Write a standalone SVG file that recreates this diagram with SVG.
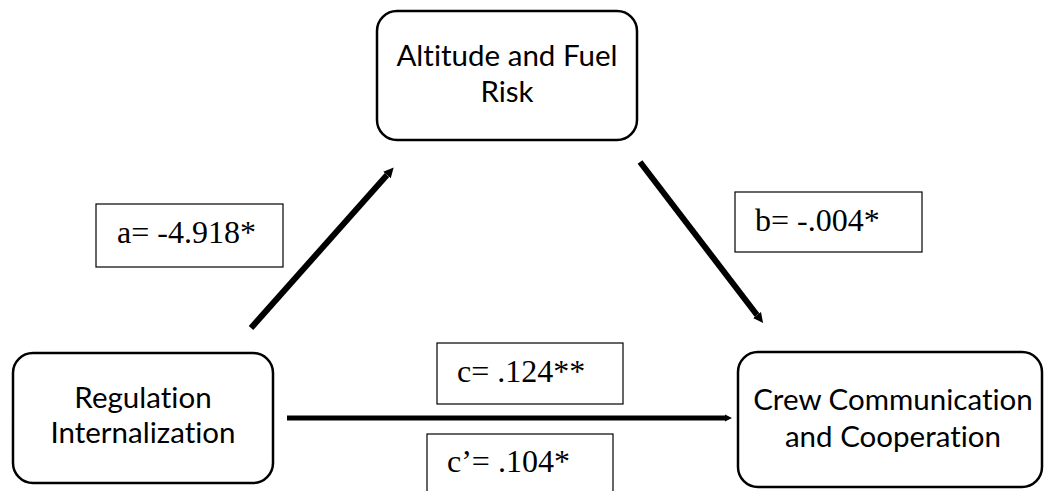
<svg xmlns="http://www.w3.org/2000/svg" width="1044" height="491" viewBox="0 0 1044 491">
  <style>
    .node { fill: #ffffff; stroke: #000000; stroke-width: 2.5; }
    .node-text { font-family: "Lato", "Liberation Sans", sans-serif; font-size: 29.5px; fill: #000000; text-anchor: middle; font-variant-ligatures: no-common-ligatures no-discretionary-ligatures; font-feature-settings: "liga" 0, "clig" 0, "dlig" 0; letter-spacing: 0.01px; }
    .coef-box { fill: #ffffff; stroke: #000000; stroke-width: 1.2; }
    .coef-text { font-family: "Liberation Serif", "Times New Roman", serif; font-size: 32px; fill: #000000; }
    .path { stroke: #000000; fill: none; }
  </style>
  <defs>
    <marker id="head" viewBox="0 0 10 10" refX="0" refY="5" markerWidth="10" markerHeight="13" markerUnits="userSpaceOnUse" orient="auto">
      <path d="M0,0 L10,5 L0,10 Z" fill="#000000"/>
    </marker>
    <marker id="head-small" viewBox="0 0 10 10" refX="0" refY="5" markerWidth="7" markerHeight="10" markerUnits="userSpaceOnUse" orient="auto">
      <path d="M0,0 L10,5 L0,10 Z" fill="#000000"/>
    </marker>
  </defs>

  <!-- paths between variables -->
  <g id="connectors">
    <line class="path" x1="251" y1="328" x2="387" y2="175" stroke-width="6" marker-end="url(#head)"/>
    <line class="path" x1="640" y1="162" x2="757" y2="315" stroke-width="6" marker-end="url(#head)"/>
    <line class="path" x1="287" y1="418" x2="725" y2="418" stroke-width="5" marker-end="url(#head-small)"/>
  </g>

  <g id="node-mediator">
    <rect class="node" x="377" y="11" width="260" height="129" rx="20" ry="20"/>
    <text class="node-text" x="507" y="66">Altitude and Fuel</text>
    <text class="node-text" x="507" y="102">Risk</text>
  </g>

  <g id="node-predictor">
    <rect class="node" x="13" y="353" width="260" height="130" rx="20" ry="20"/>
    <text class="node-text" x="143" y="408">Regulation</text>
    <text class="node-text" x="143" y="443">Internalization</text>
  </g>

  <g id="node-outcome">
    <rect class="node" x="738" y="352" width="304" height="135" rx="20" ry="20"/>
    <text class="node-text" x="893" y="410">Crew Communication</text>
    <text class="node-text" x="893" y="447">and Cooperation</text>
  </g>

  <g id="coef-a">
    <rect class="coef-box" x="96" y="204" width="187" height="63"/>
    <text class="coef-text" x="117" y="243">a= -4.918*</text>
  </g>

  <g id="coef-b">
    <rect class="coef-box" x="735" y="192" width="187" height="60"/>
    <text class="coef-text" x="755" y="231">b= -.004*</text>
  </g>

  <g id="coef-c">
    <rect class="coef-box" x="437" y="343" width="186" height="61"/>
    <text class="coef-text" x="457" y="382">c= .124**</text>
  </g>

  <g id="coef-c-prime">
    <rect class="coef-box" x="427" y="434" width="186" height="70"/>
    <text class="coef-text" x="447" y="472">c’= .104*</text>
  </g>
</svg>
